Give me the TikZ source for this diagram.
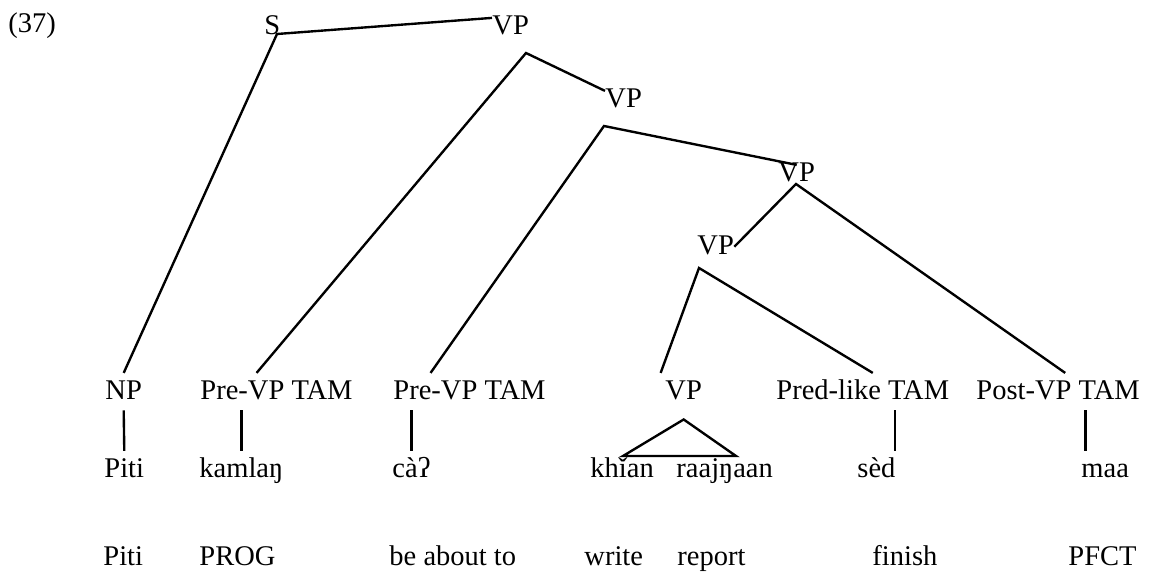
\documentclass[tikz,border=0pt]{standalone}
\usepackage{fontspec}
\setmainfont{Liberation Serif}
\usepackage{tikz}
\usetikzlibrary{calc, positioning}

\begin{document}
\begin{tikzpicture}[
    x=0.421pt, y=-0.421pt,
    every node/.style={font=\fontsize{12}{14}\selectfont, inner xsep=0pt},
    cat/.style={anchor=base west, text height=0.7em, text depth=0pt, inner ysep=0pt},
    leaf/.style={cat, inner ysep=4.2pt},
    word/.style={anchor=base west, text height=0.7em, text depth=0.2em, inner ysep=4.2pt},
    gloss/.style={anchor=base west, inner ysep=0pt},
    branch/.style={line width=1pt},
  ]
    \useasboundingbox (0,0) rectangle (1153,578);
    \node[anchor=base west] (exno) at (8,33) {(37)};

    % phrase nodes
    \node[cat] (s) at (264,35) {S};
    \node[cat] (vpa) at (492,35) {VP};
    \node[cat] (vpb) at (605,108) {VP};
    \node[cat] (vpc) at (778,182) {VP};
    \node[cat] (vpd) at (697,255) {VP};

    % bottom categories
    \node[leaf] (np) at (105,400) {NP};
    \node[leaf] (prevpa) at (200,400) {Pre-VP TAM};
    \node[leaf] (prevpb) at (393,400) {Pre-VP TAM};
    \node[leaf] (vpe) at (665,400) {VP};
    \node[leaf] (predtam) at (776,400) {Pred-like TAM};
    \node[leaf] (postvp) at (976,400) {Post-VP TAM};

    % Thai words
    \node[word] (piti) at (104,478) {Piti};
    \node[word] (kamlang) at (199,478) {kamlaŋ};
    \node[word] (ca) at (392,478) {càʔ};
    \node[word] (khian) at (590,478) {khǐan};
    \node[word] (raajngaan) at (676,478) {raajŋaan};
    \node[word] (sed) at (857,478) {sèd};
    \node[word] (maa) at (1081,478) {maa};

    % glosses
    \node[gloss] (g-piti) at (103,566) {Piti};
    \node[gloss] (g-prog) at (199,566) {PROG};
    \node[gloss] (g-about) at (389,566) {be about to};
    \node[gloss] (g-write) at (584,566) {write};
    \node[gloss] (g-report) at (677,566) {report};
    \node[gloss] (g-finish) at (872,566) {finish};
    \node[gloss] (g-pfct) at (1068,566) {PFCT};

    % branching points
    \coordinate (s-fork) at (277,34);
    \coordinate (vpa-fork) at (526,53);
    \coordinate (vpb-fork) at (604,126);
    \coordinate (vpc-fork) at (796,184);
    \coordinate (vpd-fork) at (699,268);
    \coordinate (predtam-t) at ([xshift=-23pt]predtam.south east);
    \coordinate (postvp-t) at ([xshift=-23pt]postvp.south east);
    \coordinate (tri-l) at (623,456);
    \coordinate (tri-r) at (736,456);

    \draw[branch] (np.north) -- (s-fork) -- (vpa.north west);
    \draw[branch] ([xshift=-8.4pt]prevpa.north) -- (vpa-fork) -- (vpb.north west);
    \draw[branch] ([xshift=-16.4pt]prevpb.north) -- (vpb-fork) -- (vpc.north);
    \draw[branch] (vpd.east) -- (vpc-fork) -- ([xshift=3pt]postvp.north);
    \draw[branch] ([xshift=-9.7pt]vpe.north) -- (vpd-fork) -- ([xshift=4.2pt]predtam.north);

    % lexical lines
    \draw[branch] (np.south) -- (piti.north);
    \draw[branch] (prevpa.south -| kamlang.north) -- (kamlang.north);
    \draw[branch] (prevpb.south -| ca.north) -- (ca.north);
    \draw[branch] (predtam-t) -- (predtam-t |- sed.north);
    \draw[branch] (postvp-t) -- (postvp-t |- maa.north);
    \draw[branch] (tri-l) -- ([yshift=-3.8pt]vpe.south) -- (tri-r) -- cycle;
\end{tikzpicture}
\end{document}
